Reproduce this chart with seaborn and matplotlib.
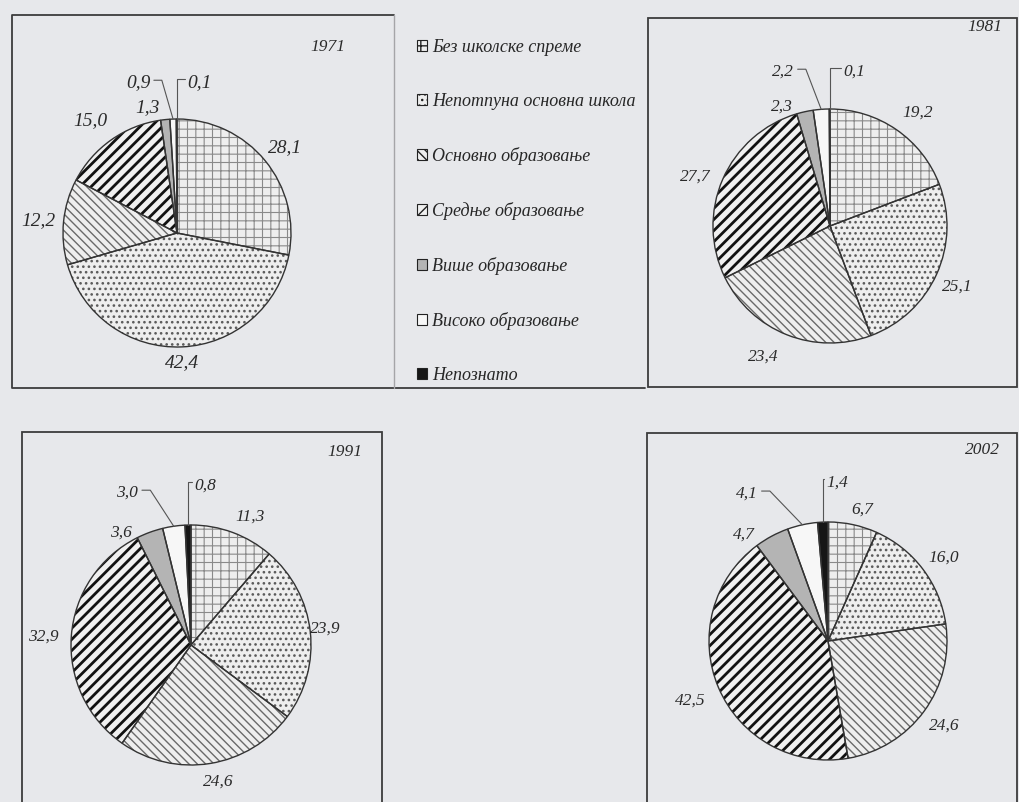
import numpy as np
import pandas as pd
import seaborn as sns
import matplotlib.pyplot as plt
from matplotlib.patches import Patch, Rectangle
from matplotlib.lines import Line2D

# data (share of population by education, %)
categories = ['Без школске спреме', 'Непотпуна основна школа', 'Основно образовање',
              'Средње образовање', 'Више образовање', 'Високо образовање', 'Непознато']
years = ['1971', '1981', '1991', '2002']
share_1971 = [28.1, 42.4, 12.2, 15.0, 1.3, 0.9, 0.1]
share_1981 = [19.2, 25.1, 23.4, 27.7, 2.3, 2.2, 0.1]
share_1991 = [11.3, 23.9, 24.6, 32.9, 3.6, 3.0, 0.8]
share_2002 = [6.7, 16.0, 24.6, 42.5, 4.7, 4.1, 1.4]

df = pd.DataFrame({'category': categories, '1971': share_1971, '1981': share_1981,
                   '1991': share_1991, '2002': share_2002})

W, H = 1019, 802
BG = '#e7e8eb'

# pie centre / radius in px, label font size, label spots (in radius units), year spot
layout = {
    '1971': dict(c=(177, 233), r=114, fs=14, year=(328, 47),
                 pos=[(0.95, 0.75), (0.04, -1.14), (-1.22, 0.11), (-0.76, 0.99),
                      (-0.26, 1.10), (-0.34, 1.32), (0.20, 1.32)]),
    '1981': dict(c=(830, 226), r=117, fs=12.5, year=(985, 27),
                 pos=[(0.75, 0.97), (1.09, -0.52), (-0.57, -1.12), (-1.15, 0.42),
                      (-0.41, 1.02), (-0.40, 1.32), (0.21, 1.32)]),
    '1991': dict(c=(191, 645), r=120, fs=12.5, year=(345, 452),
                 pos=[(0.49, 1.07), (1.12, 0.14), (0.23, -1.14), (-1.23, 0.07),
                      (-0.58, 0.94), (-0.53, 1.27), (0.12, 1.33)]),
    '2002': dict(c=(828, 641), r=119, fs=12.5, year=(982, 450),
                 pos=[(0.29, 1.10), (0.97, 0.70), (0.98, -0.71), (-1.16, -0.50),
                      (-0.71, 0.89), (-0.68, 1.24), (0.08, 1.33)]),
}

styles = [
    dict(face='#eeeeee', hatch='++', hc='#8a8a8a', hlw=0.8),
    dict(face='#eeeeee', hatch='...', hc='#5a5a5a', hlw=1.1),
    dict(face='#eeeeee', hatch='\\\\\\\\', hc='#6a6a6a', hlw=1.0),
    dict(face='#f0f0f0', hatch='///', hc='#111111', hlw=2.0),
    dict(face='#b4b4b4', hatch='', hc='#b4b4b4', hlw=0.5),
    dict(face='#f7f7f7', hatch='', hc='#f7f7f7', hlw=0.5),
    dict(face='#161616', hatch='', hc='#161616', hlw=0.5),
]

sns.set_theme(style='white', rc={'figure.facecolor': BG, 'savefig.facecolor': BG,
                                 'hatch.linewidth': 1.0})
plt.rcParams['font.family'] = ['Liberation Serif', 'DejaVu Serif']

fig = plt.figure(figsize=(W / 100, H / 100), dpi=100)
S = 175


def fmt(v):
    return f'{v:.1f}'.replace('.', ',')


def box(x0, y0, x1, y1, ec='#3c3c3c'):
    fig.add_artist(Rectangle((x0 / W, 1 - y1 / H), (x1 - x0) / W, (y1 - y0) / H,
                             transform=fig.transFigure, fill=False, ec=ec, lw=1.3))


def seg(xs, ys, ec='#3c3c3c', lw=1.3):
    fig.add_artist(Line2D([x / W for x in xs], [1 - y / H for y in ys],
                          transform=fig.transFigure, color=ec, lw=lw))


# 1971 frame: dark on three sides, faint divider towards the legend
seg([394, 12, 12, 645], [15, 15, 388, 388])
seg([394, 394], [15, 388], ec='#a5a5a8', lw=1.0)
box(648, 18, 1017, 387)
box(22, 432, 382, 806)
box(647, 433, 1017, 806)

leaders = []
for yr in years:
    L = layout[yr]
    cx, cy = L['c']
    r = L['r']
    ax = fig.add_axes([(cx - S) / W, 1 - (cy + S) / H, 2 * S / W, 2 * S / H])
    vals = df[yr].tolist()
    wedges, _ = ax.pie(vals, startangle=90, counterclock=False,
                       wedgeprops=dict(linewidth=0))
    for w, st in zip(wedges, styles):
        w.set_facecolor(st['face'])
        w.set_edgecolor(st['hc'])
        w.set_hatch(st['hatch'])
        if hasattr(w, 'set_hatch_linewidth'):
            w.set_hatch_linewidth(st['hlw'])
    ax.pie(vals, startangle=90, counterclock=False,
           wedgeprops=dict(fill=False, edgecolor='#333333', linewidth=1.0))
    ax.set_xlim(-S / r, S / r)
    ax.set_ylim(-S / r, S / r)
    ax.set_axis_off()

    texts = []
    for (dx, dy), v in zip(L['pos'], vals):
        t = ax.text(dx, dy, fmt(v), ha='center', va='center', fontsize=L['fs'],
                    style='italic', color='#2a2a2a')
        texts.append(t)
    leaders.append((ax, wedges, texts))

    fig.text(L['year'][0] / W, 1 - L['year'][1] / H, yr, ha='center', va='center',
             fontsize=12.5, style='italic', color='#2a2a2a')

handles = [Patch(facecolor=st['face'], edgecolor='#222222', hatch=st['hatch'], lw=0.8)
           for st in styles]
fig.legend(handles, categories, loc='upper left', bbox_to_anchor=(417 / W, 1 - 38.5 / H),
           frameon=False, borderpad=0, borderaxespad=0, handlelength=0.55,
           handleheight=0.55, handletextpad=0.3, labelspacing=2.05,
           prop=dict(family=['Liberation Serif'], style='italic', size=13))

# leader lines for the two thin slices at 12 o'clock
fig.canvas.draw()
for ax, wedges, texts in leaders:
    inv = ax.transData.inverted()
    # white slice: label sits left, short flat stroke then down to the rim
    w = wedges[5]
    a = np.deg2rad((w.theta1 + w.theta2) / 2)
    bb = texts[5].get_window_extent().transformed(inv)
    ly = (bb.y0 + bb.y1) / 2 + 0.02
    x0 = bb.x1 + 0.03
    ax.plot([x0, x0 + 0.07, np.cos(a)], [ly, ly, np.sin(a)], color='#555555', lw=0.8)
    # unknown slice: bracket up from the rim to the label
    w = wedges[6]
    a = np.deg2rad((w.theta1 + w.theta2) / 2)
    bb = texts[6].get_window_extent().transformed(inv)
    ly = (bb.y0 + bb.y1) / 2 + 0.03
    ex = np.cos(a)
    ax.plot([ex, ex, bb.x0 - 0.02], [np.sin(a), ly, ly], color='#555555', lw=0.8)

fig.savefig('out.png', dpi=100)
